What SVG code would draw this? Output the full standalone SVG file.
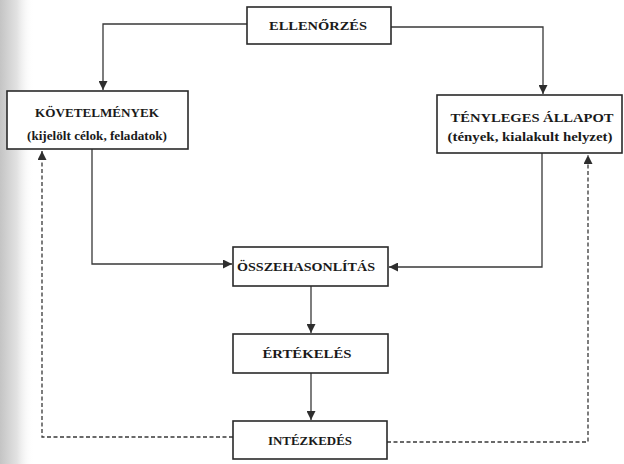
<svg xmlns="http://www.w3.org/2000/svg" width="624" height="464" viewBox="0 0 624 464">
  <defs>
    <linearGradient id="edge" x1="0" y1="0" x2="1" y2="0">
      <stop offset="0" stop-color="#c4c4c4"/>
      <stop offset="0.5" stop-color="#e2e2e2"/>
      <stop offset="1" stop-color="#ffffff" stop-opacity="0"/>
    </linearGradient>
    <marker id="arrow" viewBox="0 0 10 10" refX="10" refY="5" markerWidth="10" markerHeight="9" markerUnits="userSpaceOnUse" orient="auto">
      <path d="M0,0 L10,5 L0,10 z" fill="#2e2e2e"/>
    </marker>
  </defs>
  <style>
    .box { fill: #ffffff; stroke: #2a2a2a; stroke-width: 1.6; }
    .title { font-family: "Liberation Serif", "Times New Roman", serif; font-weight: bold; font-size: 13px; fill: #1a1a1a; text-anchor: middle; }
    .sub { font-family: "Liberation Serif", "Times New Roman", serif; font-weight: bold; font-size: 11.5px; fill: #1a1a1a; text-anchor: middle; }
    .link { fill: none; stroke: #383838; stroke-width: 1.3; }
    .dash { fill: none; stroke: #383838; stroke-width: 1.3; stroke-dasharray: 4 2.5; }
  </style>

  <rect x="0" y="0" width="624" height="464" fill="#ffffff"/>
  <!-- shaded page edge on the left -->
  <rect x="0" y="0" width="34" height="464" fill="url(#edge)"/>

  <g id="connectors">
    <polyline class="link" points="247,24 103,24 103,90" marker-end="url(#arrow)"/>
    <polyline class="link" points="391,27 543,27 543,94" marker-end="url(#arrow)"/>
    <polyline class="link" points="92,149 92,264 232,264" marker-end="url(#arrow)"/>
    <polyline class="link" points="542,153 542,267 389,267" marker-end="url(#arrow)"/>
    <line class="link" x1="311" y1="286" x2="311" y2="333" marker-end="url(#arrow)"/>
    <line class="link" x1="311" y1="373" x2="311" y2="420" marker-end="url(#arrow)"/>
    <polyline class="dash" points="233,437 42,437 42,151" marker-end="url(#arrow)"/>
    <polyline class="dash" points="387,442 588,442 588,155" marker-end="url(#arrow)"/>
  </g>

  <g id="ellenorzes">
    <rect class="box" x="247" y="7" width="144" height="37"/>
    <text class="title" x="318" y="30" textLength="98" lengthAdjust="spacingAndGlyphs">ELLENŐRZÉS</text>
  </g>

  <g id="kovetelmenyek">
    <rect class="box" x="7" y="91" width="181" height="58"/>
    <text class="title" x="97" y="117" textLength="124" lengthAdjust="spacingAndGlyphs">KÖVETELMÉNYEK</text>
    <text class="sub" x="97" y="140" textLength="140" lengthAdjust="spacingAndGlyphs">(kijelölt célok, feladatok)</text>
  </g>

  <g id="tenyleges-allapot">
    <rect class="box" x="437" y="95" width="185" height="58"/>
    <text class="title" x="532" y="122" textLength="163" lengthAdjust="spacingAndGlyphs">TÉNYLEGES ÁLLAPOT</text>
    <text class="sub" x="530" y="141" textLength="165" lengthAdjust="spacingAndGlyphs">(tények, kialakult helyzet)</text>
  </g>

  <g id="osszehasonlitas">
    <rect class="box" x="233" y="247" width="155" height="39"/>
    <text class="title" x="306" y="271" textLength="138" lengthAdjust="spacingAndGlyphs">ÖSSZEHASONLÍTÁS</text>
  </g>

  <g id="ertekeles">
    <rect class="box" x="233" y="334" width="155" height="39"/>
    <text class="title" x="307" y="358" textLength="89" lengthAdjust="spacingAndGlyphs">ÉRTÉKELÉS</text>
  </g>

  <g id="intezkedes">
    <rect class="box" x="233" y="421" width="154" height="38"/>
    <text class="title" x="310" y="445" textLength="84" lengthAdjust="spacingAndGlyphs">INTÉZKEDÉS</text>
  </g>
</svg>
